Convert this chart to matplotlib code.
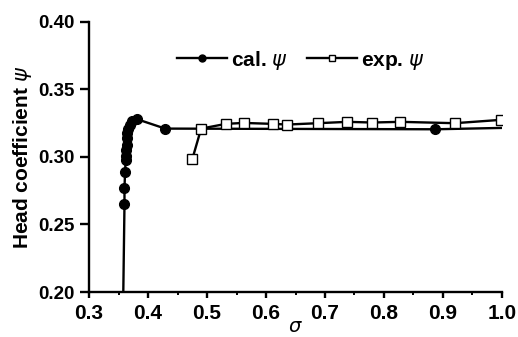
import matplotlib
matplotlib.use('Agg')
import matplotlib.pyplot as plt
from matplotlib.ticker import MultipleLocator

plt.rcParams['font.family'] = ['Liberation Sans', 'DejaVu Sans']
plt.rcParams['font.weight'] = 'bold'
plt.rcParams['mathtext.fontset'] = 'custom'
plt.rcParams['mathtext.it'] = 'DejaVu Sans:italic:weight=normal'
plt.rcParams['mathtext.rm'] = 'DejaVu Sans:weight=normal'

# calculated head coefficient
cal_sigma = [0.358, 0.360, 0.360, 0.361, 0.362, 0.362, 0.363, 0.364, 0.364, 0.365,
             0.366, 0.369, 0.373, 0.381, 0.429, 0.887, 1.0]
cal_psi = [0.200, 0.265, 0.277, 0.289, 0.2976, 0.301, 0.305, 0.309, 0.314, 0.318,
           0.321, 0.324, 0.3265, 0.328, 0.321, 0.3205, 0.3215]
cal_marker = list(range(1, 16))  # points drawn with a marker

# experimental head coefficient
exp_sigma = [0.475, 0.490, 0.532, 0.562, 0.611, 0.636, 0.688, 0.738, 0.780, 0.828, 0.920, 0.999]
exp_psi = [0.2984, 0.321, 0.3245, 0.3252, 0.3245, 0.324, 0.325, 0.326, 0.3255, 0.326, 0.325, 0.3275]

fig = plt.figure(figsize=(5.18, 3.37), dpi=100)
ax = fig.add_axes([0.172, 0.1335, 0.797, 0.8015])

ax.plot(cal_sigma, cal_psi, color='black', lw=1.7, marker='o', ms=7,
        markevery=cal_marker, label=r'cal. $\psi$', zorder=3)
ax.plot(exp_sigma, exp_psi, color='black', lw=1.7, marker='s', ms=6.5,
        mfc='white', mec='black', mew=1.0, label=r'exp. $\psi$', zorder=4)

ax.set_xlim(0.3, 1.0)
ax.set_ylim(0.20, 0.40)
ax.xaxis.set_major_locator(MultipleLocator(0.1))
ax.xaxis.set_minor_locator(MultipleLocator(0.05))
ax.yaxis.set_major_locator(MultipleLocator(0.05))
ax.xaxis.set_major_formatter(plt.FormatStrFormatter('%.1f'))
ax.yaxis.set_major_formatter(plt.FormatStrFormatter('%.2f'))

for s in ['top', 'right']:
    ax.spines[s].set_visible(False)
for s in ['left', 'bottom']:
    ax.spines[s].set_linewidth(1.7)
ax.tick_params(axis='x', which='major', direction='out', length=4.5, width=1.7, labelsize=15, pad=4)
ax.tick_params(axis='x', which='minor', direction='out', length=2.5, width=1.4)
ax.tick_params(axis='y', which='major', direction='out', length=6.5, width=1.7, labelsize=13.5, pad=4)

ax.set_ylabel(r'Head coefficient $\psi$', fontsize=15, fontweight='bold', labelpad=3)
ax.set_xlabel(r'$\sigma$', fontsize=14)
ax.xaxis.set_label_coords(0.5, -0.1)

leg = ax.legend(loc='center', bbox_to_anchor=(0.513, 0.858), ncol=2, frameon=False,
                handlelength=2.4, handletextpad=0.2, columnspacing=0.9,
                prop={'weight': 'bold', 'size': 15})
for h in leg.legend_handles:
    h.set_markersize(5)

fig.savefig('out.png', dpi=100)
